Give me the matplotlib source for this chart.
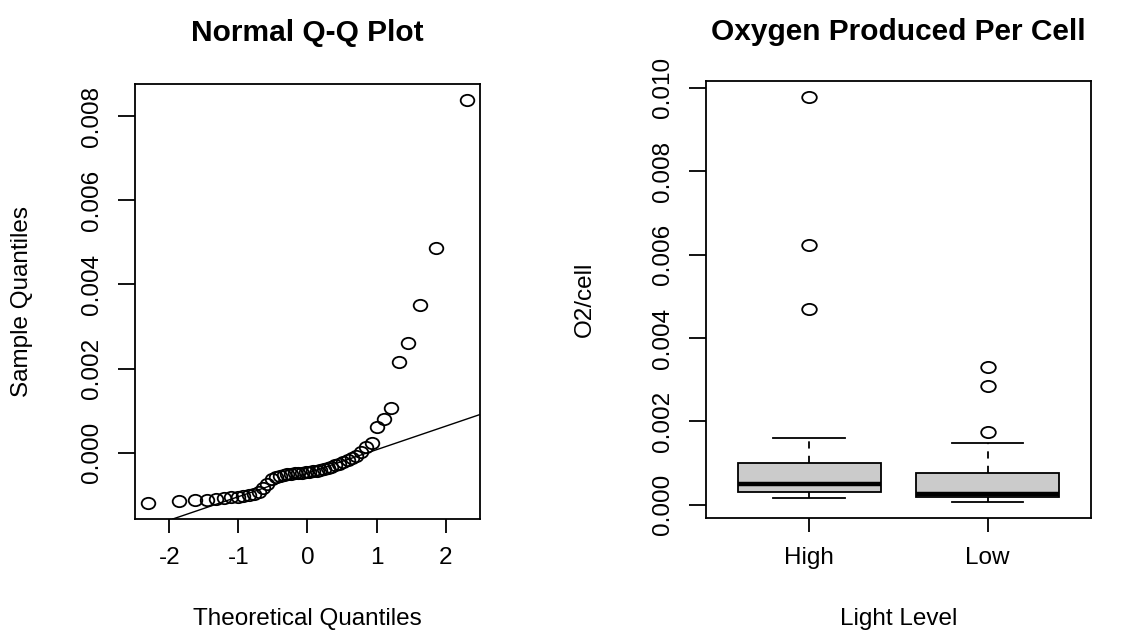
import numpy as np
import matplotlib
matplotlib.use("Agg")
import matplotlib.pyplot as plt
from matplotlib.path import Path
from matplotlib.transforms import Affine2D
from statistics import NormalDist

# Residuals of oxygen produced per cell (sorted sample for the Q-Q plot)
residuals = [
    -0.001190, -0.001143, -0.001126, -0.001110, -0.001086, -0.001069,
    -0.001055, -0.001040, -0.001026, -0.001007, -0.000983, -0.000924,
    -0.000840, -0.000733, -0.000626, -0.000567, -0.000543, -0.000526,
    -0.000512, -0.000500, -0.000488, -0.000479, -0.000469, -0.000460,
    -0.000450, -0.000438, -0.000424, -0.000407, -0.000388, -0.000364,
    -0.000336, -0.000300, -0.000260, -0.000217, -0.000169, -0.000121,
    -0.000067, 0.000029, 0.000136, 0.000243, 0.000619, 0.000814,
    0.001057, 0.002167, 0.002605, 0.003517, 0.004857, 0.008381,
]

# Box plot summaries of O2 per cell by light level
groups = ["High", "Low"]
whisker_low = [0.000175, 0.000065]
quartile_1 = [0.000304, 0.000192]
medians = [0.000510, 0.000250]
quartile_3 = [0.000998, 0.000774]
whisker_high = [0.001612, 0.001492]
outliers = [[0.00978, 0.00624, 0.00469], [0.00330, 0.00286, 0.00175]]

plt.rcParams["font.family"] = ["Liberation Sans", "DejaVu Sans"]

W, H = 1130, 630
fig = plt.figure(figsize=(W / 100, H / 100), dpi=100)
ax1 = fig.add_axes([135 / W, (H - 519) / H, 345 / W, 435 / H])
ax2 = fig.add_axes([705.7 / W, (H - 518.3) / H, 385.3 / W, 437.6 / H])


def padded(lo, hi, frac=0.04):
    pad = frac * (hi - lo)
    return lo - pad, hi + pad


def ellipse_marker(stretch):
    return Path.unit_circle().transformed(Affine2D().scale(stretch, 1.0))


LW = 1.3
FS = 17.5
TITLE_FS = 21.5

# ---------------- Normal Q-Q plot ----------------
sample = np.sort(np.asarray(residuals))
n = len(sample)
nd = NormalDist()
theoretical = np.array([nd.inv_cdf((i + 0.5) / n) for i in range(n)])

ax1.plot(theoretical, sample, linestyle="none", marker=ellipse_marker(1.2),
         ms=9.8, mfc="none", mec="black", mew=1.3)

q = np.percentile(sample, [25, 75])
z = np.array([nd.inv_cdf(0.25), nd.inv_cdf(0.75)])
slope = (q[1] - q[0]) / (z[1] - z[0])
intercept = q[0] - slope * z[0]
ax1.axline((0, intercept), slope=slope, color="black", lw=1.0)

ax1.set_xlim(*padded(theoretical.min(), theoretical.max()))
ax1.set_ylim(*padded(sample.min(), sample.max()))
ax1.set_xticks([-2, -1, 0, 1, 2], ["-2", "-1", "0", "1", "2"])
qq_yticks = [0.000, 0.002, 0.004, 0.006, 0.008]
ax1.set_yticks(qq_yticks, [f"{v:.3f}" for v in qq_yticks])
ax1.set_title("Normal Q-Q Plot", fontsize=TITLE_FS, fontweight="bold", pad=31)
ax1.set_xlabel("Theoretical Quantiles", fontsize=FS, va="baseline")
ax1.xaxis.set_label_coords(0.5, -(625 - 519) / 435)
ax1.set_ylabel("Sample Quantiles", fontsize=FS, va="center")
ax1.yaxis.set_label_coords((21.7 - 135) / 345, 0.5)

# ---------------- Box plot ----------------
stats = []
for i, g in enumerate(groups):
    stats.append(dict(label=g, whislo=whisker_low[i], q1=quartile_1[i],
                      med=medians[i], q3=quartile_3[i],
                      whishi=whisker_high[i], fliers=outliers[i]))

positions = [1, 2]
ax2.bxp(stats, positions=positions, widths=0.8, capwidths=0.4,
        patch_artist=True, manage_ticks=False,
        boxprops=dict(facecolor="#CBCBCB", edgecolor="black", linewidth=LW),
        medianprops=dict(color="black", linewidth=3.2, solid_capstyle="butt"),
        whiskerprops=dict(color="black", linewidth=LW, linestyle=(0, (4, 4))),
        capprops=dict(color="black", linewidth=LW),
        flierprops=dict(marker=ellipse_marker(1.3), markersize=10.5,
                        markerfacecolor="none", markeredgecolor="black",
                        markeredgewidth=1.3, linestyle="none"))

all_vals = whisker_low + whisker_high + [v for grp in outliers for v in grp]
ax2.set_xlim(*padded(0.5, 2.5))
ax2.set_ylim(*padded(min(all_vals), max(all_vals)))
ax2.set_xticks(positions, groups)
box_yticks = [0.000, 0.002, 0.004, 0.006, 0.008, 0.010]
ax2.set_yticks(box_yticks, [f"{v:.3f}" for v in box_yticks])
ax2.set_title("Oxygen Produced Per Cell", fontsize=TITLE_FS,
              fontweight="bold", pad=29)
ax2.set_xlabel("Light Level", fontsize=FS, va="baseline")
ax2.xaxis.set_label_coords(0.5, -(625 - 518.3) / 437.6)
ax2.set_ylabel("O2/cell", fontsize=FS, va="center")
ax2.yaxis.set_label_coords((585 - 705.7) / 385.3, 0.5)

for ax in (ax1, ax2):
    for sp in ax.spines.values():
        sp.set_linewidth(LW)
    ax.tick_params(axis="x", direction="out", length=10, width=LW,
                   labelsize=FS, pad=10.5)
    ax.tick_params(axis="y", direction="out", length=12, width=LW,
                   labelsize=FS, pad=11, labelrotation=90)
    for lab in ax.get_yticklabels():
        lab.set_va("center")

fig.savefig("out.png", dpi=100, facecolor="white")
